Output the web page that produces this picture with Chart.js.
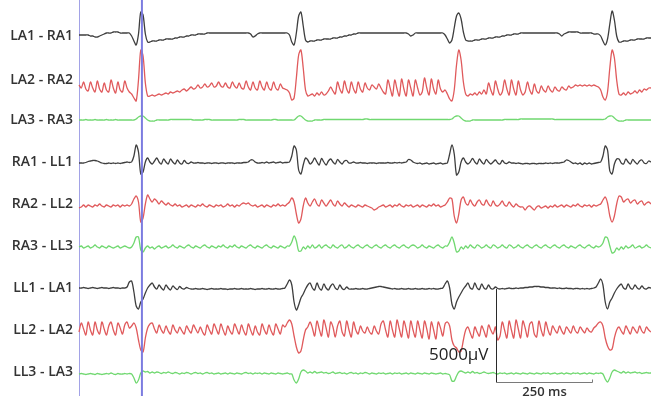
<!DOCTYPE html>
<html>
<head>
<meta charset="utf-8">
<script src="https://cdn.jsdelivr.net/npm/chart.js@4.4.1/dist/chart.umd.min.js"></script>
<style>
  html, body { margin: 0; padding: 0; background: #fff; }
</style>
</head>
<body>
<canvas id="ecg" width="651" height="396"></canvas>
<script>
/* --- DATA --- */
// one sample every 6 ms, amplitude in ADC counts (5000 uV = 93 counts)
const STEP_MS = 6;
const X_MAX_MS = 1500;
const UV_PER_COUNT = 5000 / 93;

const CHANNELS = ['LA1 - RA1', 'LA2 - RA2', 'LA3 - RA3', 'RA1 - LL1', 'RA2 - LL2',
                  'RA3 - LL3', 'LL1 - LA1', 'LL2 - LA2', 'LL3 - LA3'];

const LA1_RA1 = [
  1,1,1,1,1,0,0,-1,-1,0,  1,2,3,3,3,4,4,4,3,3,  3,3,3,0,-5,-9,2,24,21,2,
  -6,-6,-5,-5,-5,-4,-4,-4,-3,-3,  -3,-3,-2,-2,-1,-1,-1,0,0,1,  1,1,2,2,2,2,3,3,3,3,
  3,3,3,3,3,3,3,3,3,3,  3,3,3,3,3,2,-1,0,2,3,  3,3,3,3,3,3,3,3,3,3,
  3,3,1,-6,-9,3,20,24,10,-4,  -6,-5,-5,-5,-4,-4,-4,-3,-3,-3,  -3,-2,-2,-2,-1,-1,0,0,1,1,
  2,2,3,3,3,3,3,3,3,3,  3,3,3,3,3,3,3,3,3,3,  3,3,3,3,2,0,1,3,3,3,
  3,3,3,3,3,3,3,3,3,3,  1,-3,-7,-4,8,20,23,17,4,-4,  -5,-5,-5,-4,-4,-4,-3,-3,-3,-2,
  -2,-2,-1,-1,-1,0,0,1,1,1,  2,2,2,3,3,3,3,3,3,3,  3,3,3,3,3,3,3,3,3,3,
  2,0,2,3,4,4,4,4,4,3,  3,3,3,3,3,2,2,2,0,-5,  -9,-3,12,25,16,0,-6,-6,-5,-5,
  -5,-4,-4,-4,-3,-3,-3,-3,-2,-2,  -2
];
const LA2_RA2 = [
  -5,-8,-2,-9,-11,-2,-8,-12,-1,-9,  -12,-3,-10,-12,0,-8,-13,-2,-10,-12,  -1,-8,-12,-14,-18,-21,0,30,24,-3,
  -16,-16,-15,-16,-15,-14,-15,-14,-13,-14,  -12,-13,-12,-11,-12,-10,-9,-11,-9,-7,  -9,-8,-5,-8,-7,-4,-7,-6,-3,-7,
  -6,-2,-6,-7,-3,-7,-8,-2,-6,-8,  -3,-8,-9,-1,-7,-10,-2,-8,-10,-1,  -7,-10,-2,-8,-10,-2,-8,-10,-4,-8,
  -9,-10,-13,-20,-18,2,25,30,12,-10,  -16,-15,-14,-16,-13,-15,-12,-15,-14,-11,  -7,-11,-14,-2,-9,-13,-1,-9,-13,-2,
  -9,-13,-2,-9,-12,-3,-8,-10,-5,-7,  -9,-4,-8,-12,-14,0,-8,-16,0,-9,  -16,1,-9,-16,0,-8,-16,0,-8,-15,
  -12,2,-8,-15,1,-9,-14,0,-9,-12,  -10,-14,-19,-21,-10,15,30,20,-2,-14,  -16,-14,-15,-13,-15,-12,-14,-10,-14,-3,
  -10,-15,-1,-9,-15,-12,0,-9,-15,0,  -9,-15,-1,-10,-15,-12,-2,-10,-14,-4,  -11,-13,-6,-10,-12,-6,-10,-12,-7,-10,
  -11,-7,-9,-10,-6,-8,-7,-5,-6,-5,  -6,-5,-6,-5,-6,-5,-6,-7,-10,-17,  -20,-12,12,30,22,0,-14,-15,-13,-15,
  -12,-14,-13,-11,-13,-10,-12,-9,-10,-8,  -8
];
const LA3_RA3 = [
  0,0,0,0.5,0,0,0,0.5,0,0,  0,0,0.5,0,0,0,0.5,0,0,0,  0,0,0,0,0,1,3,4,4,2,
  0,-1,-1,-1,0,0,0,0,0,0,  0.5,0.5,0.5,0.5,0.5,0.5,0.5,0.5,0.5,0.5,  0,0,0,0,0,0.5,0.5,0.5,0,0,
  0,0,0,0,0,0,0,0,0,0,  0.5,0.5,0.5,0,0,0,0,0,0,0,  0,0,0,0,0,0.5,0.5,0,0,0,
  0,0,0,0,0,2,4,4,2,0,  -1,-1,-1,0,0,0,0,0.5,0.5,0.5,  0.5,0.5,0.5,0.5,0.5,0.5,0.5,0.5,0.5,0.5,
  0.5,0.5,0.5,0.5,0.5,1,1,0.5,0.5,0.5,  0.5,0.5,0.5,0.5,0.5,0.5,0.5,0.5,0.5,0.5,  0.5,0.5,0.5,0.5,0.5,0.5,0.5,0.5,0.5,0.5,
  0.5,0.5,0.5,0.5,0.5,0.5,0.5,0.5,0.5,0.5,  0.5,0.5,0.5,1,3,4,4,2,0,-1,  -1,-1,0,0,0,0,0,0,0,0,
  0,0,0,0,0,0,0.5,0.5,0.5,0.5,  0.5,0.5,0.5,1,1,1,1,1,1,1,  1,1,1,1,1,1,1,1,0.5,0.5,
  0.5,0.5,0.5,0.5,0.5,0.5,0.5,0.5,0.5,0.5,  0.5,0.5,0.5,0.5,0.5,0.5,0.5,0.5,0.5,0.5,  1,3,4,4,2,0,-1,-1,-1,0,
  0,0,0,0,0,0,0,0,0,0,  0
];
const RA1_LL1 = [
  -1,-1,-1,-0.5,0.5,1,1.5,1.5,1,0,  -1,-1.5,-1.5,-1,-1.5,-1,-1.5,-1,-1.5,-1,  -0.5,0,-0.5,0,6,17,10,-12,-10,0,
  4,0,-2,1,4,0,-2,3,0,-2,  3,0,-2,2,-1,-2,1.5,-1,-1.5,0,  -1,-1,-0.5,-1,-1,-1.5,-1,-1,-1.5,-1,
  -1,-1.5,-1,-1,-1.5,-1,-1,-1,-1.5,-1,  -1,-1,-0.5,-0.5,0,2,2,0,-1,-1,  -0.5,-1,0,-1,-0.5,0,-1,-0.5,0,-1,
  -0.5,-0.5,0,6,16,12,-8,-12,-3,4,  2,-2,0,4,0,-3,3.5,0,-3,1,  3,0,-2,2.5,0,-2,1,1.5,-1,-1,
  0,-1,-1,-0.5,-1,-1,-1.5,-1,-1,-1,  -1.5,-1,-1,-1,-1,-0.5,-1,-1,-0.5,-1,  -0.5,-1,-0.5,0,2.5,2,0,-1,-1.5,-1,
  -2,-1.5,-1,-2,-1.5,-1,-2,-1.5,-1,-2,  -1.5,-1,8,17,8,-13,-10,0,4,0,  -2,0,3.5,0,-2,3,0,-2,2.5,0,
  -2,0,2,-1,-2,1.5,-1,-1.5,0,-1,  -1,-1.5,-1,-1.5,-2,-1.5,-1.5,-2,-1.5,-1.5,  -2,-1.5,-1.5,-1.5,-1,-1.5,-1,-1.5,-1,-1,
  -1,-0.5,0,2,1.5,0,-1.5,-1,-2,-1,  -2.5,-1,-2,-1,-2,-1.5,-1,-0.5,0,6,  16,12,-9,-12,-2,3,3,-1,-2,3,
  0,-2,2.5,0,-2,1,2,-1,-1.5,1,  0
];
const RA2_LL2 = [
  -4,-3,-1,-3,-1,-2,-3,-1,-2,0,  -2,-3,-1,-2,-3,-1,-2,-1,-3,-1,  -2,-1,-2,0,5,8,2,-18,-14,0,
  9,5,2,5,3,0,3,1,-1,1,  -1,-2,0,-2,-1,-3,-2,-1,-3,-1,  -2,-3,-1,-2,0,-2,-3,-1,-2,-3,
  -1,-2,-1,-3,-2,0,-2,-1,-3,-1,  -2,0,1,0,1,-1,-2,-1,-3,-2,  -1,-3,-1,-2,-3,-1,-2,0,-2,-1,
  -2,0,2,6,2,-10,-19,-15,-2,6,  1,-2,2,5,0,-2,4,1,-2,1,  4,0,-2,3,0,-2,1,-1,-3,-1,
  -2,-3,-1,-2,-3,-1,-2,-3,-4,-6,  -5,-3,-2,-1,-3,-2,-1,-3,-1,-2,  0,-2,-3,-1,-2,-1,-3,-2,-1,-3,
  -1,-2,-3,-1,-2,0,-2,-1,-3,-2,  -1,2,6,5,-12,-19,-10,4,7,1,  -1,4,0,-2,2,4,0,-1,4,0,
  -2,3,-1,-2,0,3,-1,-2,2,-1,  -3,0,-2,-3,-3,-6,-3,-2,-4,-6,  -3,-2,-4,-3,-2,-4,-2,-3,-1,-3,
  -2,-1,-3,-1,-2,-3,-1,-2,0,-2,  -3,-1,-2,-1,-3,-1,-2,-1,0,4,  7,1,-12,-18,-12,0,8,7,2,4,
  5,1,3,4,0,2,3,-1,1,2,  0
];
const RA3_LL3 = [
  -1,0,-2,-1,0,-2,-1,1,-1,-2,  0,-1,-2,0,-1,-2,-1,0,-2,-1,  0,-1,-2,-1,3,9,9,-4,-6,-2,
  0,-2,-1,-3,-1,0,-2,-1,0,-2,  -1,1,-1,-2,0,-1,-2,0,1,-1,  -2,0,-1,-2,0,1,-1,-2,0,-1,
  -2,0,-1,1,-1,-2,0,-1,1,-1,  -2,0,-1,-2,0,1,-1,-2,0,-1,  -2,0,1,-1,-2,0,-1,-2,0,-1,
  -2,0,0,4,10,5,-5,-5,-1,-3,  0,-2,1,-2,-1,1,-2,0,1,-1,  -2,1,-1,-2,0,1,-2,-1,1,-1,
  -2,0,1,-1,-2,0,1,-1,-2,0,  1,-1,-2,0,1,-1,-2,0,1,-1,  -2,0,1,-1,-2,0,1,0,-2,-1,
  1,-1,-2,0,-1,-2,0,1,-1,-2,  0,0,4,9,3,-6,-5,-1,-3,0,  -2,1,-1,-2,1,0,-2,-1,1,-1,
  -2,1,0,-2,-1,1,-1,-2,1,0,  -2,-1,1,-1,-2,0,1,-1,-2,0,  1,-1,-2,0,1,-1,-2,0,1,-1,
  -2,0,1,-1,-2,0,-1,-2,0,1,  -1,-2,0,1,-1,-2,0,-1,0,3,  9,8,0,-7,-6,-2,-4,-1,-3,0,
  -2,-1,1,-2,-1,0,-2,-1,1,-1,  -2
];
const LL1_LA1 = [
  0,0,0.5,0,-0.5,0,0.5,0,-0.5,0,  0.5,0,0,-0.5,0,0.5,0,0,-0.5,0,  0,1,6,7,-4,-18,-21,-14,-11,-5,
  0,3,5,1,-1,3,0,-2,3,0,  -2,2,0,-1.5,1.5,-0.5,-1,0.5,-0.5,-1,  -1,-0.5,-1,-1,-0.5,-1,-1.5,-1,-0.5,-1,
  -1,-1,-0.5,-1,-1,-1.5,-1,-1,-0.5,-1,  -1,-0.5,-1,-1,-1,-0.5,-1,-1.5,-1,-1,  -0.5,-1,-1,-0.5,-1,-1,-0.5,-1,-1,-0.5,
  0,4,8,3,-14,-22,-17,-10,-6,-1,  3,5,0,-2,5,0,-2,4,0,-2,  2,4,0,-1.5,3,-0.5,-1.5,1,-1,-1,
  -1,-0.5,-1,-1,-0.5,-1,-1,-0.5,0,0.5,  1,1.5,1.5,1,0.5,0,-0.5,-1,-0.5,-1,  -1,-0.5,-1,-1,-0.5,-1,-1,-0.5,-1,-1,
  -0.5,-1,-1,-0.5,-1,-0.5,-1,-1,-0.5,0,  4,7,0,-16,-21,-14,-9,-5,-1,2,  5,0,-1,5,0,-1.5,4,0,-1,3,
  -0.5,-1,1,-0.5,-1,-0.5,-1,-0.5,0,-0.5,  -0.5,0,-0.5,0,0,0.5,0.5,1,1,1.5,  1.5,1.5,1,1,0.5,0.5,0,0,0,-0.5,
  0,-0.5,-0.5,0,-0.5,-0.5,-1,-0.5,-0.5,-1,  -0.5,-1,-0.5,-1,-0.5,0,1,5,9,3,  -14,-21,-14,-10,-5,-1,2,4,0,-1,
  4,0,-1,3,0,-1,2,-0.5,-1,0.5,  0
];
const LL2_LA2 = [
  -2,7,1,-5,8,0,-5,8,0,-4,  8,1,-5,4,8,0,-5,7,2,-4,  5,8,2,4,7,2,-10,-20,-22,-8,
  2,6,7,1,-3,5,0,-3,4,-1,  -4,5,0,-3,3,-1,-4,4,0,-3,  5,1,-3,3,-2,-5,5,0,-4,6,
  1,-4,6,0,-5,4,-1,-4,6,1,  -4,5,-1,-5,6,0,-5,4,-2,-5,  6,0,-4,5,-1,-5,6,1,-4,5,
  3,7,10,6,-6,-17,-23,-21,-10,0,  3,8,2,-6,9,1,-6,10,2,-7,  8,3,-7,4,9,-2,-6,9,0,-7,
  8,0,-4,4,-1,-3,3,-2,-4,4,  -1,-4,6,9,0,-7,9,0,-7,10,  1,-7,9,1,-8,9,0,-7,9,0,
  -8,9,1,-9,8,0,-9,8,2,-6,  6,8,4,-10,-16,-18,-22,-21,-10,0,  3,-3,-8,3,-2,-6,4,-1,-7,5,
  0,-4,3,-10,-6,8,0,-8,9,0,  -8,10,1,-8,9,2,-7,6,8,-4,  -7,9,0,-6,8,0,-5,4,0,-3,
  4,-1,-4,3,0,-3,4,-1,-3,3,  0,-3,2,-1,-2,2,4,7,8,4,  -8,-16,-20,-19,-8,0,3,-1,-4,4,
  0,-4,3,0,-3,4,-1,-3,3,0,  -2
];
const LL3_LA3 = [
  -2,-1.5,-2,-2.5,-2,-1.5,-2,-2.5,-1.5,-2,  -2.5,-2,-1.5,-2,-1,-2,-2.5,-1.5,-2,-2,  -1.5,-2,-1.5,-2,-6,-11,-8,-1,1,0,
  0.5,-1,0,-1,0,-0.5,-1.5,-0.5,-1,0,  -1,-1.5,-0.5,-1,-2,-1,-1.5,-0.5,-1,-2,  -1,-0.5,-1.5,-1,-2,-1,-0.5,-1.5,-1,-2,
  -1.5,-1,-2,-1.5,-1,-2,-1,-1.5,-2,-1,  -1.5,-2,-1,-0.5,-1.5,-1,-2,-1,-1.5,-1,  -2,-1,-1.5,-2,-1,-1.5,-2,-1,-1.5,-2,
  -1.5,-1,-2,-2,-8,-11,-7,0,2,1,  -1,0,-1,0.5,-1,-0.5,0,-1,-0.5,-1.5,  -1,0,-1.5,-1,-0.5,-1.5,-1,-2,-1,-0.5,
  -1.5,-1,-2,-1,-1.5,-0.5,-1,-2,-1,-1.5,  -2,-1,-1.5,-1,-2,-1.5,-1,-2,-1,-1.5,  -1,-2,-1.5,-1,-2,-1,-1.5,-2,-1,-1.5,
  -2,-1,-1.5,-2,-1,-1.5,-2,-1.5,-1,-2,  -1.5,-2,-3,-9,-9,-4,0,1,0,-1,  0,-1,0.5,-1,-0.5,-1.5,-1,0,-1,-1.5,
  -1,-0.5,-1.5,-2,-1,-1.5,-1,-2,-1.5,-1,  -2,-1,-1.5,-2,-1,-1.5,-2,-1,-1.5,-2,  -1,-1.5,-2,-1,-1.5,-1,-2,-1.5,-1,-2,
  -1.5,-1,-2,-1,-1.5,-2,-1,-1.5,-1,-2,  -1.5,-1,-2,-1,-1.5,-2,-1,-1.5,-1,-2,  -7,-10,-6,0,2,1,0,-1,0.5,-1,
  0,-1,-0.5,0,-1,-0.5,-1.5,-1,-0.5,-1,  -1
];

const TRACES = [LA1_RA1, LA2_RA2, LA3_RA3, RA1_LL1, RA2_LL2, RA3_LL3, LL1_LA1, LL2_LA2, LL3_LA3];

// cursor and calibration bar
const CURSOR_MS = 165;
const SCALE_BAR_MS = 1094;     // start of the bar on the time axis
const SCALE_BAR_BASE = -10;    // counts, on the last channel
const SCALE_BAR_UV = 5000;
const SCALE_BAR_T = 250;

/* --- STYLE / LAYOUT --- */
const BLACK = '#3e3e3e', RED = '#e05a5c', GREEN = '#70d870';
const COLORS = [BLACK, RED, GREEN, BLACK, RED, GREEN, BLACK, RED, GREEN];
const BAND_PX = [62, 40, 42, 42, 42, 42, 42, 42, 42];   // height of each strip
const LABEL_PX = [36, 18, 18, 18, 18, 18, 18, 18, 18];  // label row, from top of strip

const scales = {
  x: { type: 'linear', min: 0, max: X_MAX_MS, display: false }
};
// stacked left axes: the last one added goes on top, so add them bottom-up
for (let i = CHANNELS.length - 1; i >= 0; i--) {
  scales['y' + i] = {
    type: 'linear',
    position: 'left',
    stack: 'ecg',
    stackWeight: BAND_PX[i],
    min: LABEL_PX[i] - BAND_PX[i],
    max: LABEL_PX[i],
    grid: { display: false, drawTicks: false },
    border: { display: true, color: '#a2a2e6', width: 1 },
    ticks: {
      padding: 6,
      color: '#333',
      font: { family: "'Open Sans', sans-serif", size: 14, weight: '600' },
      callback: () => CHANNELS[i]
    },
    afterBuildTicks: ax => { ax.ticks = [{ value: 0 }]; },
    afterFit: ax => { ax.width = 79; ax.paddingTop = 0; ax.paddingBottom = 0; }
  };
}

const datasets = TRACES.map((trace, i) => ({
  label: CHANNELS[i],
  data: trace.map((v, n) => ({ x: n * STEP_MS, y: v })),
  yAxisID: 'y' + i,
  borderColor: COLORS[i],
  borderWidth: 1.3,
  pointRadius: 0,
  tension: 0.3,
  clip: false
}));

const overlay = {
  id: 'overlay',
  afterDatasetsDraw(chart) {
    const { ctx, chartArea, scales } = chart;
    const xs = scales.x, yb = scales.y8;
    ctx.save();

    // blue cursor
    const cx = xs.getPixelForValue(CURSOR_MS);
    ctx.strokeStyle = '#7c7ce0';
    ctx.lineWidth = 2;
    ctx.beginPath();
    ctx.moveTo(cx, chartArea.top);
    ctx.lineTo(cx, chartArea.bottom);
    ctx.stroke();

    // calibration bar
    const x0 = Math.round(xs.getPixelForValue(SCALE_BAR_MS)) + 0.5;
    const x1 = Math.round(xs.getPixelForValue(SCALE_BAR_MS + SCALE_BAR_T)) + 0.5;
    const y0 = Math.round(yb.getPixelForValue(SCALE_BAR_BASE)) + 0.5;
    const y1 = yb.getPixelForValue(SCALE_BAR_BASE + SCALE_BAR_UV / UV_PER_COUNT);
    ctx.lineWidth = 1;
    ctx.strokeStyle = '#2a2a2a';
    ctx.beginPath();
    ctx.moveTo(x0, y1);
    ctx.lineTo(x0, y0);
    ctx.stroke();
    ctx.strokeStyle = '#7a7a7a';
    ctx.beginPath();
    ctx.moveTo(x0, y0);
    ctx.lineTo(x1, y0);
    ctx.moveTo(x1, y0);
    ctx.lineTo(x1, y0 - 3);
    ctx.stroke();

    ctx.fillStyle = '#222';
    ctx.textAlign = 'right';
    ctx.textBaseline = 'alphabetic';
    ctx.font = "17px 'Open Sans', sans-serif";
    ctx.fillText(SCALE_BAR_UV + '\u00b5V', x0 - 8, y0 - 23);

    ctx.fillStyle = '#333';
    ctx.textAlign = 'center';
    ctx.font = "600 13px 'Open Sans', sans-serif";
    ctx.fillText(SCALE_BAR_T + ' ms', (x0 + x1) / 2, y0 + 13);
    ctx.restore();
  }
};

new Chart(document.getElementById('ecg'), {
  type: 'line',
  data: { datasets },
  options: {
    responsive: false,
    animation: false,
    parsing: false,
    normalized: true,
    layout: { padding: 0 },
    plugins: { legend: { display: false }, tooltip: { enabled: false } },
    scales
  },
  plugins: [overlay]
});
</script>
</body>
</html>
